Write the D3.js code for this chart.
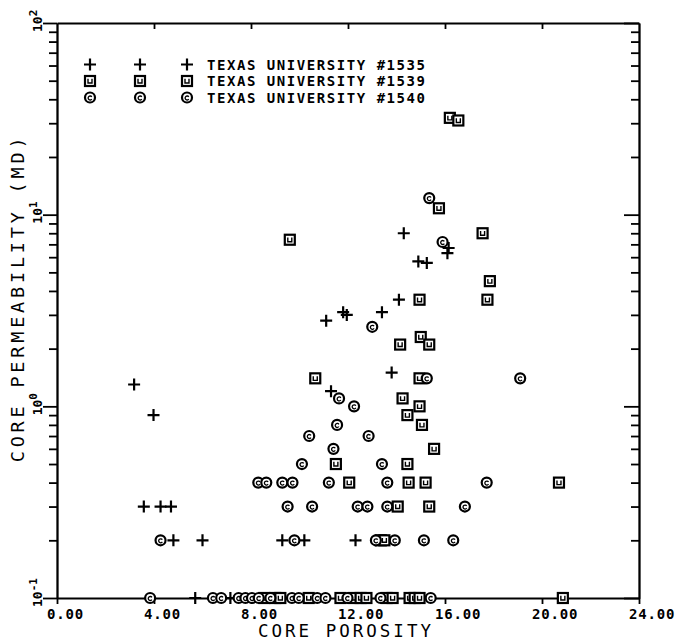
<!DOCTYPE html>
<html>
<head>
<meta charset="utf-8">
<script src="https://cdn.jsdelivr.net/npm/d3@7"></script>
<style>
  html, body { margin: 0; padding: 0; background: #fff; }
  svg { display: block; }
</style>
</head>
<body>
<svg id="chart" width="676" height="642"></svg>
<script>
// Porosity (%) and permeability (md) of cores from three wells
const wellNames = ["TEXAS UNIVERSITY #1535", "TEXAS UNIVERSITY #1539", "TEXAS UNIVERSITY #1540"];

const porosity1535 = [3.18, 3.98, 11.3, 14.3, 16.15, 16.1, 14.9, 15.25, 14.1, 13.4, 11.8, 11.95, 11.1, 13.8,
  3.58, 4.27, 4.7, 4.8, 6.0, 9.29, 10.2, 12.31, 5.7, 7.15];
const perm1535 = [1.3, 0.9, 1.2, 8.0, 6.7, 6.3, 5.7, 5.6, 3.6, 3.1, 3.1, 3.0, 2.8, 1.5,
  0.3, 0.3, 0.3, 0.2, 0.2, 0.2, 0.2, 0.2, 0.1, 0.1];

const porosity1539 = [9.6, 15.75, 16.2, 16.55, 17.55, 17.85, 17.75, 14.95, 14.15, 15.0, 15.35, 10.65, 14.95,
  14.25, 14.95, 14.45, 15.05, 15.55, 11.5, 14.45, 12.05, 14.5, 15.2, 20.7, 14.05, 15.35, 13.35, 13.5,
  8.55, 9.0, 9.21, 10.38, 11.69, 12.23, 12.52, 12.76, 13.59, 13.84, 14.54, 14.75, 14.95, 20.86];
const perm1539 = [7.4, 10.8, 32, 31, 8.0, 4.5, 3.6, 3.6, 2.1, 2.3, 2.1, 1.4, 1.4,
  1.1, 1.0, 0.9, 0.8, 0.6, 0.5, 0.5, 0.4, 0.4, 0.4, 0.4, 0.3, 0.3, 0.2, 0.2,
  0.1, 0.1, 0.1, 0.1, 0.1, 0.1, 0.1, 0.1, 0.1, 0.1, 0.1, 0.1, 0.1, 0.1];

const porosity1540 = [15.35, 15.9, 13.0, 19.1, 15.25, 11.63, 12.25, 11.55, 10.4, 12.85, 11.4, 10.1, 13.4,
  8.3, 8.63, 9.29, 9.71, 11.21, 13.62, 17.72, 9.51, 10.52, 12.4, 12.8, 13.62, 16.82,
  4.27, 9.79, 13.15, 13.93, 15.13, 16.34,
  3.84, 6.43, 6.77, 7.49, 7.77, 8.04, 8.32, 8.8, 9.69, 9.97, 10.73, 11.07, 11.98, 13.34, 15.41];
const perm1540 = [12.2, 7.2, 2.6, 1.4, 1.4, 1.1, 1.0, 0.8, 0.7, 0.7, 0.6, 0.5, 0.5,
  0.4, 0.4, 0.4, 0.4, 0.4, 0.4, 0.4, 0.3, 0.3, 0.3, 0.3, 0.3, 0.3,
  0.2, 0.2, 0.2, 0.2, 0.2, 0.2,
  0.1, 0.1, 0.1, 0.1, 0.1, 0.1, 0.1, 0.1, 0.1, 0.1, 0.1, 0.1, 0.1, 0.1, 0.1];

const xTickValues = [0, 4, 8, 12, 16, 20, 24];
const xTickLabels = ["0.00", "4.00", "8.00", "12.00", "16.00", "20.00", "24.00"];
const yDecades = [0.1, 1, 10, 100];
const yDecadeExponents = ["-1", "0", "1", "2"];
const xTitle = "CORE POROSITY";
const yTitle = "CORE PERMEABILITY (MD)";

const mono = "'DejaVu Sans Mono', 'Liberation Mono', monospace";
const svg = d3.select("#chart");

const x = d3.scaleLinear().domain([0, 24]).range([57, 639]);
const y = d3.scaleLog().domain([0.1, 100]).range([598, 23]);

// minor ticks 2..9 in each decade
const yMinor = [];
for (let d = 0; d < yDecades.length - 1; d++) {
  for (let k = 2; k <= 9; k++) yMinor.push(yDecades[d] * k);
}

const axisStroke = 1.8;
function styleAxis(g) {
  g.selectAll("path, line").attr("stroke", "#000").attr("stroke-width", axisStroke);
  g.selectAll("text").remove();
}

// left axis: ticks pointing outward
svg.append("g").attr("transform", `translate(${x(0)},0)`)
  .call(d3.axisLeft(y).tickValues(yMinor).tickSize(8).tickSizeOuter(0).tickFormat(""))
  .call(styleAxis);
svg.append("g").attr("transform", `translate(${x(0)},0)`)
  .call(d3.axisLeft(y).tickValues(yDecades).tickSize(14).tickSizeOuter(0).tickFormat(""))
  .call(styleAxis);

// right axis: ticks pointing into the plot
svg.append("g").attr("transform", `translate(${x(24)},0)`)
  .call(d3.axisLeft(y).tickValues(yMinor).tickSize(8).tickSizeOuter(0).tickFormat(""))
  .call(styleAxis);
svg.append("g").attr("transform", `translate(${x(24)},0)`)
  .call(d3.axisLeft(y).tickValues(yDecades).tickSize(15).tickSizeOuter(0).tickFormat(""))
  .call(styleAxis);

// top axis: ticks pointing down into the plot
svg.append("g").attr("transform", `translate(0,${y(100)})`)
  .call(d3.axisBottom(x).tickValues(xTickValues.slice(1, -1)).tickSize(6).tickSizeOuter(0).tickFormat(""))
  .call(styleAxis);

// bottom axis: ticks pointing down, labels to the lower left of each tick
const bottomAxis = svg.append("g").attr("transform", `translate(0,${y(0.1)})`)
  .call(d3.axisBottom(x).tickValues(xTickValues).tickSize(6).tickSizeOuter(0)
    .tickFormat((d, i) => xTickLabels[i]));
bottomAxis.selectAll("path, line").attr("stroke", "#000").attr("stroke-width", axisStroke);
bottomAxis.selectAll("text")
  .attr("fill", "#000")
  .attr("text-anchor", "start")
  .attr("x", -10.5)
  .attr("y", 21)
  .attr("dy", null)
  .style("font-family", mono)
  .style("font-size", "14px")
  .style("font-weight", "bold")
  .style("letter-spacing", "0.8px");

// decade labels on the left, written upward
yDecades.forEach((v, i) => {
  const t = svg.append("text")
    .attr("transform", `translate(42,${y(v) + 9}) rotate(-90)`)
    .attr("fill", "#000")
    .style("font-family", mono)
    .style("font-weight", "bold")
    .style("font-size", "13px");
  t.append("tspan").text("10");
  t.append("tspan").attr("dy", -5).style("font-size", "11px").text(yDecadeExponents[i]);
});

// axis titles
svg.append("text")
  .attr("x", 346).attr("y", 637)
  .attr("text-anchor", "middle")
  .attr("fill", "#000")
  .style("font-family", mono)
  .style("font-size", "17.5px")
  .style("letter-spacing", "3px")
  .text(xTitle);

svg.append("text")
  .attr("transform", `translate(24,298) rotate(-90)`)
  .attr("text-anchor", "middle")
  .attr("fill", "#000")
  .style("font-family", mono)
  .style("font-size", "18.5px")
  .style("letter-spacing", "3.8px")
  .text(yTitle);

// marker glyphs
const mk = 2.2;
function drawPlus(g) {
  g.append("path").attr("d", "M-6,0H6M0,-6V6")
    .attr("stroke", "#000").attr("stroke-width", mk).attr("fill", "none");
}
function drawSquare(g) {
  g.append("rect").attr("x", -5).attr("y", -5).attr("width", 10).attr("height", 10)
    .attr("fill", "#fff").attr("stroke", "#000").attr("stroke-width", mk);
  g.append("path").attr("d", "M-2,-2.2V2H2V-2.2")
    .attr("stroke", "#000").attr("stroke-width", 1.4).attr("fill", "none");
}
function drawCircle(g) {
  g.append("circle").attr("r", 5)
    .attr("fill", "#fff").attr("stroke", "#000").attr("stroke-width", mk);
  g.append("path").attr("d", "M1.8,-0.6A2,2 0 1 0 1.8,1.6")
    .attr("stroke", "#000").attr("stroke-width", 1.3).attr("fill", "none");
}

const series = [
  { por: porosity1535, perm: perm1535, draw: drawPlus },
  { por: porosity1539, perm: perm1539, draw: drawSquare },
  { por: porosity1540, perm: perm1540, draw: drawCircle }
];

const plot = svg.append("g");
series.forEach(s => {
  const pts = s.por.map((p, i) => ({ p, k: s.perm[i] }));
  plot.selectAll(null).data(pts).enter().append("g")
    .attr("transform", d => `translate(${x(d.p)},${y(d.k)})`)
    .each(function () { s.draw(d3.select(this)); });
});

// legend: three markers per row followed by the well name
const legendRows = [64.5, 81, 97.5];
const legendMarkX = [90, 140, 187];
series.forEach((s, i) => {
  legendMarkX.forEach(mx => {
    s.draw(svg.append("g").attr("transform", `translate(${mx},${legendRows[i]})`));
  });
  svg.append("text")
    .attr("x", 207).attr("y", legendRows[i] + 5.3)
    .attr("fill", "#000")
    .style("font-family", mono)
    .style("font-weight", "bold")
    .style("font-size", "14px")
    .style("letter-spacing", "1.55px")
    .text(wellNames[i]);
});
</script>
</body>
</html>
